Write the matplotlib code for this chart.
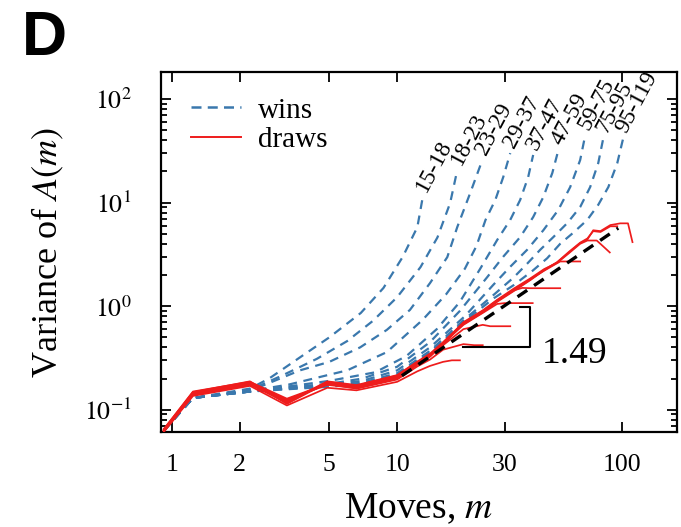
import matplotlib
matplotlib.use('Agg')
import matplotlib.pyplot as plt
from matplotlib.lines import Line2D
from matplotlib.ticker import FixedLocator, FixedFormatter, NullLocator, LogLocator, NullFormatter

plt.rcParams['font.family'] = ['Liberation Serif', 'DejaVu Serif']
plt.rcParams['mathtext.fontset'] = 'stix'

# ---------------- data ----------------
win_labels = ['15-18', '18-23', '23-29', '29-37', '37-47', '47-59', '59-75', '75-95', '95-119']

win_m = [
    [0.92, 1.24, 2.22, 2.7, 3.7, 5.0, 6.9, 8.7, 10.6, 12.3, 13.0],
    [0.92, 1.24, 2.22, 3.1, 4.4, 6.0, 7.8, 10.0, 12.7, 15.1, 17.2, 18.5],
    [0.92, 1.24, 2.22, 3.7, 5.0, 6.85, 9.0, 11.4, 14.0, 16.7, 18.5, 21.1, 23.9],
    [0.92, 1.24, 2.22, 3.3, 6.0, 9.0, 13.0, 16.5, 20.0, 22.5, 24.7, 27.3, 29.6, 31.8],
    [0.92, 1.24, 2.22, 3.3, 5.0, 8.0, 11.0, 15.0, 19.0, 23.4, 27.8, 31.8, 35.2, 38.2, 40.2],
    [0.92, 1.24, 2.22, 3.3, 5.0, 7.0, 10.0, 14.0, 19.0, 25.1, 29.6, 35.2, 40.2, 44.6, 48.9, 52.0],
    [0.92, 1.24, 2.22, 3.3, 5.0, 7.0, 10.0, 14.0, 20.0, 26.7, 31.8, 37.8, 44.6, 52.0, 58.7, 65.0, 68.5],
    [0.92, 1.24, 2.22, 3.3, 5.0, 7.0, 10.0, 14.0, 20.0, 27.0, 33.0, 38.0, 43.2, 49.4, 57.0, 65.0, 72.0, 78.2, 82.4],
    [0.92, 1.24, 2.22, 3.3, 5.0, 7.0, 10.0, 14.0, 20.0, 27.0, 33.0, 40.0, 46.4, 53.0, 60.5, 69.9, 78.2, 86.7, 95.0, 101.0],
]
win_v = [
    [0.063, 0.130, 0.160, 0.200, 0.320, 0.50, 0.86, 1.5, 3.0, 5.8, 11.3],
    [0.063, 0.130, 0.155, 0.215, 0.310, 0.46, 0.72, 1.22, 2.38, 4.6, 9.9, 20.6],
    [0.063, 0.130, 0.152, 0.240, 0.290, 0.40, 0.59, 0.92, 1.67, 2.97, 5.8, 12.3, 25.7],
    [0.063, 0.130, 0.152, 0.175, 0.240, 0.36, 0.74, 1.3, 2.3, 3.8, 6.8, 10.6, 17.6, 30.0],
    [0.063, 0.130, 0.150, 0.168, 0.190, 0.23, 0.33, 0.60, 1.1, 2.3, 4.34, 6.8, 10.6, 17.6, 28.8],
    [0.063, 0.130, 0.150, 0.165, 0.178, 0.20, 0.26, 0.45, 0.9, 1.9, 3.0, 4.64, 7.24, 11.3, 19.3, 32.0],
    [0.063, 0.130, 0.150, 0.162, 0.174, 0.190, 0.24, 0.40, 0.8, 1.6, 2.4, 3.5, 5.4, 8.5, 14.1, 25.7, 44.9],
    [0.063, 0.130, 0.150, 0.160, 0.170, 0.183, 0.225, 0.37, 0.75, 1.3, 1.9, 2.6, 3.5, 4.64, 6.34, 9.05, 14.1, 24.0, 42.0],
    [0.063, 0.130, 0.150, 0.158, 0.167, 0.178, 0.215, 0.36, 0.72, 1.2, 1.6, 2.2, 2.9, 4.0, 5.1, 6.8, 9.5, 14.1, 24.0, 42.0],
]

draw_m = [
    [0.92, 1.24, 2.22, 3.24, 4.9, 6.6, 10, 12.3, 14, 16, 17.5, 19],
    [0.92, 1.24, 2.22, 3.24, 4.9, 6.6, 10, 12.3, 14, 16, 19.7, 22, 24],
    [0.92, 1.24, 2.22, 3.24, 4.9, 6.6, 10, 12.3, 14, 16, 19.7, 24, 25.9, 29, 31.8],
    [0.92, 1.24, 2.22, 3.24, 4.9, 6.6, 10, 12.3, 14, 16, 19.7, 24, 27.8, 30, 32.6, 36, 40],
    [0.92, 1.24, 2.22, 3.24, 4.9, 6.6, 10, 12.3, 14, 16, 19.7, 24, 27.8, 33, 36, 39, 46, 53],
    [0.92, 1.24, 2.22, 3.24, 4.9, 6.6, 10, 12.3, 14, 16, 19.7, 24, 27.8, 33, 39, 45, 51.4, 53, 58, 65],
    [0.92, 1.24, 2.22, 3.24, 4.9, 6.6, 10, 12.3, 14, 16, 19.7, 24, 27.8, 33, 39, 45, 51.4, 58, 65, 70, 77, 82, 88],
    [0.92, 1.24, 2.22, 3.24, 4.9, 6.6, 10, 12.3, 14, 16, 19.7, 24, 27.8, 33, 39, 45, 51.4, 58, 65, 70, 74.3, 80, 88.5, 95],
    [0.92, 1.24, 2.22, 3.24, 4.9, 6.6, 10, 12.3, 14, 16, 19.7, 24, 27.8, 33, 39, 45, 51.4, 58, 65, 70, 74.3, 80, 88.5, 98, 106, 111],
]
draw_v = [
    [0.061, 0.136, 0.170, 0.110, 0.163, 0.154, 0.186, 0.235, 0.265, 0.290, 0.300, 0.300],
    [0.065, 0.150, 0.186, 0.128, 0.178, 0.160, 0.196, 0.262, 0.305, 0.380, 0.430, 0.420, 0.420],
    [0.063, 0.141, 0.176, 0.116, 0.186, 0.171, 0.214, 0.290, 0.335, 0.420, 0.600, 0.660, 0.640, 0.640, 0.640],
    [0.063, 0.147, 0.184, 0.124, 0.176, 0.168, 0.200, 0.278, 0.340, 0.440, 0.660, 0.860, 1.05, 1.07, 1.07, 1.07, 1.07],
    [0.064, 0.144, 0.178, 0.119, 0.188, 0.173, 0.216, 0.292, 0.348, 0.450, 0.690, 0.900, 1.14, 1.42, 1.50, 1.49, 1.49, 1.49],
    [0.062, 0.139, 0.174, 0.125, 0.174, 0.161, 0.199, 0.272, 0.325, 0.430, 0.680, 0.880, 1.12, 1.45, 1.82, 2.20, 2.60, 2.70, 2.70, 2.70],
    [0.065, 0.148, 0.188, 0.114, 0.183, 0.169, 0.209, 0.284, 0.338, 0.440, 0.700, 0.910, 1.15, 1.48, 1.85, 2.28, 2.62, 3.25, 4.00, 4.30, 4.30, 3.80, 3.30],
    [0.063, 0.143, 0.180, 0.121, 0.180, 0.164, 0.203, 0.280, 0.330, 0.435, 0.670, 0.870, 1.10, 1.40, 1.78, 2.22, 2.66, 3.35, 4.10, 4.50, 5.30, 5.20, 5.90, 5.90],
    [0.063, 0.145, 0.182, 0.122, 0.181, 0.166, 0.206, 0.280, 0.330, 0.430, 0.680, 0.880, 1.12, 1.42, 1.80, 2.25, 2.65, 3.30, 4.06, 4.40, 5.40, 5.30, 6.06, 6.30, 6.30, 4.15],
]

fit_m = [10.5, 96.0]
fit_v = [0.213, 5.67]
fit_label = '1.49'

tri_m = [35.1, 39.0, 39.0, 19.7]
tri_v = [0.98, 0.98, 0.40, 0.40]

xtick_vals = [1, 2, 5, 10, 30, 100]
xtick_labels = ['1', '2', '5', '10', '30', '100']
ytick_vals = [0.1, 1, 10, 100]
ytick_labels = [r'$10^{-1}$', r'$10^{0}$', r'$10^{1}$', r'$10^{2}$']

# ---------------- plotting ----------------
blue = '#3a78ad'
red = '#ee1c1c'

fig = plt.figure(figsize=(6.81, 5.27), dpi=100)
ax = fig.add_axes([161/681, 1 - 432/527, (677 - 161)/681, (432 - 72)/527])

for m, v in zip(win_m, win_v):
    ax.plot(m, v, color=blue, lw=1.6, ls=(0, (4, 3)), zorder=2)

for m, v in zip(draw_m, draw_v):
    ax.plot(m, v, color=red, lw=1.25, zorder=3)

ax.plot(fit_m, fit_v, color='black', lw=2.4, ls=(0, (3.5, 2.5)), zorder=4)
ax.plot(tri_m, tri_v, color='black', lw=1.5, zorder=4)
ax.text(44.1, 0.351, fit_label, fontsize=27, ha='left', va='center', zorder=5)

for lab, m, v in zip(win_labels, win_m, win_v):
    ax.annotate(lab, xy=(m[-1], v[-1]), xytext=(-1, 5), textcoords='offset points',
                rotation=62, rotation_mode='anchor', ha='left', va='center', fontsize=17)

ax.set_xscale('log')
ax.set_yscale('log')
ax.set_xlim(0.894, 175)
ax.set_ylim(0.061, 182)

ax.xaxis.set_major_locator(FixedLocator(xtick_vals))
ax.xaxis.set_major_formatter(FixedFormatter(xtick_labels))
ax.xaxis.set_minor_locator(NullLocator())
ax.yaxis.set_major_locator(FixedLocator(ytick_vals))
ax.yaxis.set_major_formatter(FixedFormatter(ytick_labels))
ax.yaxis.set_minor_locator(LogLocator(base=10, subs=range(2, 10), numticks=20))
ax.yaxis.set_minor_formatter(NullFormatter())

ax.tick_params(which='both', direction='in', top=True, right=True, width=1.3)
ax.tick_params(which='major', length=7)
ax.tick_params(which='minor', length=4)
ax.tick_params(axis='x', labelsize=18.5, pad=16)
ax.tick_params(axis='y', labelsize=18.5, pad=21)
for s in ax.spines.values():
    s.set_linewidth(1.6)

ax.set_xlabel(r'Moves, $m$', fontsize=27, labelpad=11)
ax.set_ylabel(r'Variance of $A(m)$', fontsize=26, labelpad=13)

handles = [Line2D([], [], color=blue, lw=1.8, ls=(0, (4, 2.5))),
           Line2D([], [], color=red, lw=1.4)]
ax.legend(handles, ['wins', 'draws'], loc='upper left', bbox_to_anchor=(0.058, 0.93),
          frameon=False, fontsize=21, handlelength=1.7, handletextpad=0.6,
          labelspacing=0.1, borderaxespad=0, borderpad=0)

fig.text(22/681, 1 - 55/527, 'D', fontsize=45, fontweight='bold',
         family=['Liberation Sans', 'DejaVu Sans'], ha='left', va='baseline')

fig.savefig('out.png', dpi=100)
